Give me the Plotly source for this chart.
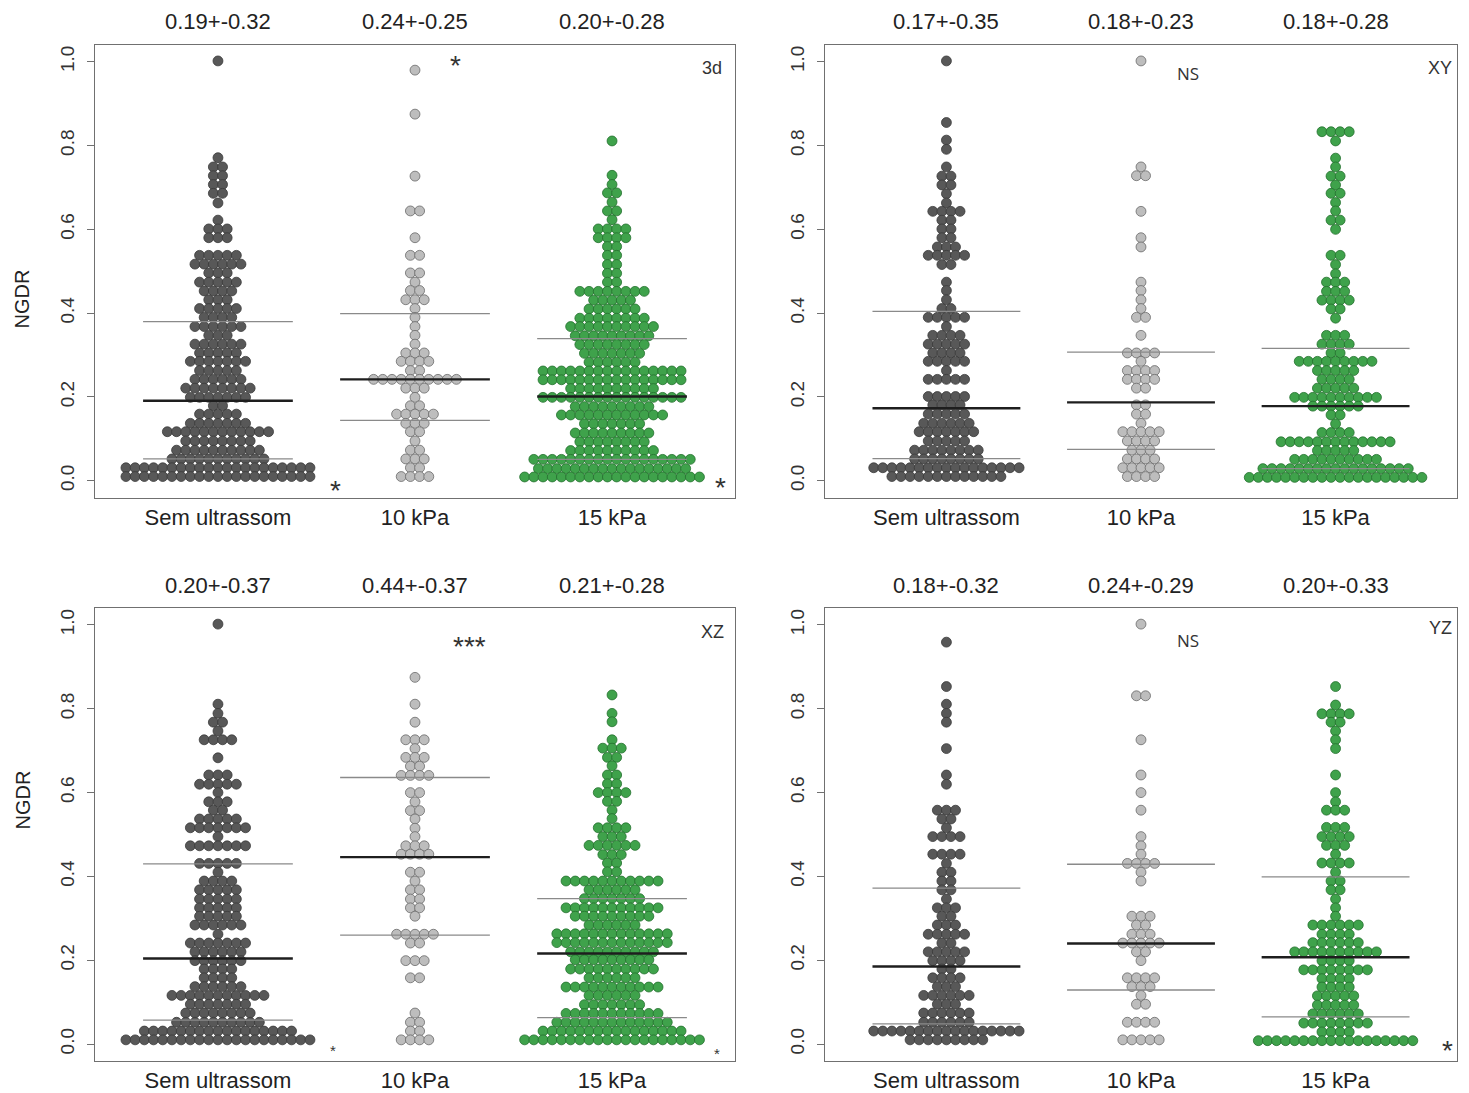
import plotly.graph_objects as go

# ---------------- data ----------------
groups = ["Sem ultrassom", "10 kPa", "15 kPa"]
panel_names = ["3d", "XY", "XZ", "YZ"]

# summary text above each group
t3d = ["0.19+-0.32", "0.24+-0.25", "0.20+-0.28"]
tXY = ["0.17+-0.35", "0.18+-0.23", "0.18+-0.28"]
tXZ = ["0.20+-0.37", "0.44+-0.37", "0.21+-0.28"]
tYZ = ["0.18+-0.32", "0.24+-0.29", "0.20+-0.33"]

# horizontal lines (centre line and upper/lower lines)
m3d = [0.191, 0.242, 0.201]; u3d = [0.380, 0.399, 0.339]; l3d = [0.052, 0.144, 0.051]
mXY = [0.173, 0.187, 0.178]; uXY = [0.404, 0.307, 0.316]; lXY = [0.053, 0.075, 0.029]
mXZ = [0.204, 0.446, 0.216]; uXZ = [0.430, 0.636, 0.347]; lXZ = [0.057, 0.260, 0.063]
mYZ = [0.185, 0.240, 0.207]; uYZ = [0.372, 0.429, 0.399]; lYZ = [0.048, 0.129, 0.065]

# ---- 3d ----
d3_sem_y = [1.002, 0.771, 0.749, 0.728, 0.707, 0.686, 0.663, 0.622, 0.601, 0.580, 0.538, 0.517, 0.496, 0.474, 0.453, 0.432, 0.411, 0.390, 0.368, 0.347, 0.326, 0.305, 0.285, 0.263, 0.242, 0.221, 0.199, 0.179, 0.159, 0.137, 0.117, 0.095, 0.073, 0.052, 0.031, 0.010]
d3_sem_n = [1, 1, 2, 2, 2, 2, 1, 1, 3, 3, 5, 6, 3, 5, 4, 3, 5, 4, 6, 3, 6, 5, 7, 5, 6, 8, 7, 2, 5, 7, 12, 8, 10, 11, 21, 21]
d3_k10_y = [0.980, 0.875, 0.727, 0.644, 0.580, 0.538, 0.496, 0.474, 0.454, 0.432, 0.411, 0.390, 0.368, 0.347, 0.326, 0.305, 0.285, 0.263, 0.242, 0.221, 0.199, 0.179, 0.159, 0.137, 0.117, 0.095, 0.073, 0.052, 0.031, 0.010]
d3_k10_n = [1, 1, 1, 2, 1, 2, 2, 1, 2, 3, 1, 1, 1, 1, 1, 3, 4, 2, 10, 3, 1, 2, 5, 3, 2, 1, 2, 3, 2, 4]
d3_k15_y = [0.811, 0.729, 0.707, 0.687, 0.665, 0.644, 0.623, 0.601, 0.580, 0.559, 0.538, 0.516, 0.495, 0.474, 0.452, 0.431, 0.410, 0.388, 0.368, 0.346, 0.325, 0.304, 0.283, 0.262, 0.241, 0.220, 0.199, 0.177, 0.157, 0.136, 0.114, 0.093, 0.072, 0.051, 0.029, 0.009]
d3_k15_n = [1, 1, 1, 2, 1, 2, 1, 4, 4, 2, 2, 2, 2, 2, 8, 5, 6, 8, 10, 9, 8, 7, 6, 16, 16, 10, 16, 9, 12, 7, 9, 8, 10, 18, 17, 20]

# ---- XY ----
xy_sem_y = [1.002, 0.855, 0.813, 0.791, 0.749, 0.727, 0.706, 0.685, 0.663, 0.643, 0.622, 0.601, 0.580, 0.558, 0.538, 0.516, 0.474, 0.454, 0.432, 0.411, 0.390, 0.368, 0.347, 0.326, 0.305, 0.285, 0.263, 0.242, 0.201, 0.181, 0.159, 0.137, 0.117, 0.095, 0.073, 0.052, 0.031, 0.010]
xy_sem_n = [1, 1, 1, 1, 1, 2, 2, 1, 1, 4, 2, 2, 2, 3, 5, 2, 1, 1, 1, 2, 5, 1, 4, 5, 4, 5, 1, 5, 5, 4, 5, 6, 7, 5, 8, 8, 17, 13]
xy_k10_y = [1.002, 0.749, 0.728, 0.643, 0.580, 0.558, 0.474, 0.454, 0.432, 0.411, 0.390, 0.347, 0.305, 0.285, 0.263, 0.242, 0.221, 0.181, 0.159, 0.137, 0.117, 0.095, 0.073, 0.052, 0.031, 0.010]
xy_k10_n = [1, 1, 2, 1, 1, 1, 1, 1, 1, 1, 2, 1, 4, 1, 4, 4, 2, 2, 2, 1, 5, 4, 3, 4, 5, 4]
xy_k15_y = [0.833, 0.811, 0.770, 0.749, 0.727, 0.706, 0.686, 0.664, 0.644, 0.622, 0.600, 0.538, 0.516, 0.494, 0.474, 0.452, 0.431, 0.410, 0.388, 0.347, 0.326, 0.305, 0.285, 0.263, 0.242, 0.221, 0.199, 0.178, 0.157, 0.136, 0.115, 0.093, 0.072, 0.051, 0.029, 0.008]
xy_k15_n = [4, 1, 1, 1, 2, 1, 2, 1, 1, 2, 1, 2, 1, 1, 3, 3, 4, 2, 1, 3, 4, 2, 9, 5, 4, 5, 10, 6, 2, 1, 4, 13, 5, 10, 17, 20]

# ---- XZ ----
xz_sem_y = [1.002, 0.811, 0.789, 0.768, 0.747, 0.726, 0.683, 0.642, 0.620, 0.600, 0.578, 0.558, 0.537, 0.516, 0.495, 0.473, 0.431, 0.410, 0.389, 0.368, 0.346, 0.325, 0.305, 0.284, 0.262, 0.241, 0.220, 0.199, 0.179, 0.158, 0.137, 0.116, 0.095, 0.074, 0.052, 0.031, 0.010]
xz_sem_n = [1, 1, 1, 2, 1, 4, 1, 3, 5, 1, 3, 2, 5, 7, 1, 7, 5, 1, 4, 5, 5, 5, 5, 6, 1, 7, 6, 6, 4, 4, 6, 11, 7, 8, 10, 17, 21]
xz_k10_y = [0.875, 0.811, 0.768, 0.726, 0.705, 0.684, 0.663, 0.641, 0.600, 0.578, 0.557, 0.537, 0.515, 0.495, 0.473, 0.453, 0.410, 0.389, 0.368, 0.346, 0.325, 0.305, 0.262, 0.241, 0.199, 0.158, 0.074, 0.052, 0.031, 0.010]
xz_k10_n = [1, 1, 1, 3, 1, 3, 2, 4, 2, 1, 2, 1, 1, 1, 3, 4, 2, 1, 2, 2, 2, 1, 5, 2, 3, 2, 1, 2, 2, 4]
xz_k15_y = [0.833, 0.789, 0.769, 0.726, 0.706, 0.684, 0.664, 0.642, 0.621, 0.600, 0.579, 0.558, 0.538, 0.516, 0.495, 0.474, 0.452, 0.432, 0.411, 0.389, 0.368, 0.347, 0.325, 0.305, 0.284, 0.263, 0.242, 0.220, 0.201, 0.179, 0.158, 0.136, 0.116, 0.094, 0.073, 0.052, 0.031, 0.010]
xz_k15_n = [1, 1, 1, 1, 3, 2, 1, 2, 2, 4, 2, 1, 1, 4, 3, 6, 3, 2, 2, 11, 6, 7, 11, 9, 6, 13, 13, 10, 9, 10, 6, 11, 6, 7, 11, 13, 16, 20]

# ---- YZ ----
yz_sem_y = [0.959, 0.853, 0.811, 0.789, 0.768, 0.705, 0.642, 0.620, 0.558, 0.537, 0.516, 0.495, 0.453, 0.431, 0.410, 0.389, 0.368, 0.346, 0.325, 0.305, 0.284, 0.262, 0.241, 0.220, 0.199, 0.179, 0.158, 0.137, 0.116, 0.095, 0.074, 0.052, 0.031, 0.010]
yz_sem_n = [1, 1, 1, 1, 1, 1, 1, 1, 3, 2, 1, 4, 4, 1, 2, 2, 2, 1, 3, 2, 3, 5, 2, 5, 4, 2, 4, 3, 6, 3, 6, 6, 17, 9]
yz_k10_y = [1.002, 0.831, 0.726, 0.642, 0.600, 0.558, 0.495, 0.473, 0.453, 0.431, 0.410, 0.389, 0.305, 0.284, 0.262, 0.241, 0.220, 0.199, 0.158, 0.137, 0.116, 0.095, 0.052, 0.010]
yz_k10_n = [1, 2, 1, 1, 1, 1, 1, 1, 1, 4, 1, 1, 3, 2, 3, 5, 2, 1, 4, 3, 1, 2, 4, 5]
yz_k15_y = [0.853, 0.809, 0.788, 0.768, 0.747, 0.726, 0.705, 0.642, 0.600, 0.578, 0.558, 0.517, 0.495, 0.474, 0.453, 0.432, 0.410, 0.389, 0.368, 0.346, 0.325, 0.305, 0.284, 0.262, 0.242, 0.220, 0.199, 0.177, 0.156, 0.136, 0.115, 0.093, 0.072, 0.050, 0.029, 0.008]
yz_k15_n = [1, 1, 4, 2, 1, 1, 1, 1, 1, 1, 3, 3, 4, 3, 1, 4, 1, 2, 2, 1, 1, 1, 6, 4, 6, 10, 4, 8, 4, 4, 5, 5, 6, 8, 4, 18]

# ---------------- styling ----------------
FONT = "Liberation Sans"
W, H = 1469, 1093
fills = ["#585858", "#bdbdbd", "#3fa24b"]
edges = ["#3a3a3a", "#6a6a6a", "#23702d"]
DX = 0.0467      # horizontal spacing between neighbouring dots (x units)
HALF = 0.38      # half width of horizontal lines
XR = [0.376, 3.624]
YR = [-0.04, 1.04]

panels = [
    dict(data=[(d3_sem_y, d3_sem_n), (d3_k10_y, d3_k10_n), (d3_k15_y, d3_k15_n)],
         mean=m3d, up=u3d, lo=l3d, titles=t3d, xd=[95, 735], yd=[45, 497.5]),
    dict(data=[(xy_sem_y, xy_sem_n), (xy_k10_y, xy_k10_n), (xy_k15_y, xy_k15_n)],
         mean=mXY, up=uXY, lo=lXY, titles=tXY, xd=[825, 1457], yd=[45, 497.5]),
    dict(data=[(xz_sem_y, xz_sem_n), (xz_k10_y, xz_k10_n), (xz_k15_y, xz_k15_n)],
         mean=mXZ, up=uXZ, lo=lXZ, titles=tXZ, xd=[95, 735], yd=[608.2, 1060.8]),
    dict(data=[(yz_sem_y, yz_sem_n), (yz_k10_y, yz_k10_n), (yz_k15_y, yz_k15_n)],
         mean=mYZ, up=uYZ, lo=lYZ, titles=tYZ, xd=[825, 1457], yd=[608.2, 1060.8]),
]

fig = go.Figure()
annotations = []

def swarm(center, ys, ns):
    xs, yy = [], []
    for y, n in zip(ys, ns):
        for i in range(n):
            xs.append(center + (i - (n - 1) / 2) * DX)
            yy.append(y)
    return xs, yy

for pi, p in enumerate(panels):
    k = "" if pi == 0 else str(pi + 1)
    xa, ya = "x" + k, "y" + k
    for gi, (ys, ns) in enumerate(p["data"]):
        xs, yy = swarm(gi + 1, ys, ns)
        fig.add_trace(go.Scatter(x=xs, y=yy, mode="markers", xaxis=xa, yaxis=ya,
                                 marker=dict(size=9.9, color=fills[gi],
                                             line=dict(color=edges[gi], width=0.8)),
                                 showlegend=False, hoverinfo="skip"))
    for gi in range(3):
        c = gi + 1
        for val, col, wid in ((p["up"][gi], "#8a8a8a", 1.3), (p["lo"][gi], "#8a8a8a", 1.3),
                              (p["mean"][gi], "#1e1e1e", 2.4)):
            fig.add_trace(go.Scatter(x=[c - HALF, c + HALF], y=[val, val], mode="lines",
                                     xaxis=xa, yaxis=ya, line=dict(color=col, width=wid),
                                     showlegend=False, hoverinfo="skip"))
    xdom = [p["xd"][0] / W, p["xd"][1] / W]
    ydom = [1 - p["yd"][1] / H, 1 - p["yd"][0] / H]
    fig.update_layout(**{
        "xaxis" + k: dict(domain=xdom, range=XR, anchor=ya, tickvals=[1, 2, 3], ticktext=groups,
                          ticks="", showgrid=False, zeroline=False, showline=True, mirror=True,
                          linecolor="#707070", linewidth=1,
                          tickfont=dict(family=FONT, size=22, color="#222"), ticklabelstandoff=0),
        "yaxis" + k: dict(domain=ydom, range=YR, anchor=xa, tickvals=[0, 0.2, 0.4, 0.6, 0.8, 1.0],
                          ticktext=["0.0", "0.2", "0.4", "0.6", "0.8", "1.0"], tickangle=-90,
                          ticks="outside", ticklen=7, tickcolor="#707070", showgrid=False,
                          zeroline=False, showline=True, mirror=True, linecolor="#707070",
                          linewidth=1, tickfont=dict(family=FONT, size=19, color="#333"),
                          ticklabelstandoff=5),
    })
    # group summary texts above the panel
    for gi in range(3):
        annotations.append(dict(x=gi + 1, xref=xa, y=1 - (p["yd"][0] - 23) / H, yref="paper",
                                text=p["titles"][gi], showarrow=False, yanchor="middle",
                                font=dict(family=FONT, size=22, color="#222")))

# y-axis titles
for yc in (268, 832):
    annotations.append(dict(x=9 / W, y=1 - yc / H, xref="paper", yref="paper", text="NGDR",
                            textangle=-90, showarrow=False,
                            font=dict(family=FONT, size=20, color="#222")))

def txt(xp, yp, s, size, fam=FONT):
    annotations.append(dict(x=xp / W, y=1 - yp / H, xref="paper", yref="paper", text=s,
                            showarrow=False, xanchor="center", yanchor="middle",
                            font=dict(family=fam, size=size, color="#333")))

# panel labels
txt(712, 68, "3d", 18)
txt(1440, 68, "XY", 18)
txt(712, 632, "XZ", 18)
txt(1440, 628, "YZ", 18)
txt(1188, 73, "NS", 17, "Open Sans")
txt(1188, 640, "NS", 17, "Open Sans")
# significance stars
txt(455, 66, "*", 28)
txt(335, 490, "*", 28)
txt(720, 487, "*", 28)
txt(469, 646, "***", 28)
txt(333, 1050, "*", 15)
txt(717, 1053, "*", 15)
txt(1447, 1050, "*", 28)

fig.update_layout(width=W, height=H, margin=dict(l=0, r=0, t=0, b=0),
                  paper_bgcolor="white", plot_bgcolor="white", annotations=annotations)
fig.write_html("out.html")
